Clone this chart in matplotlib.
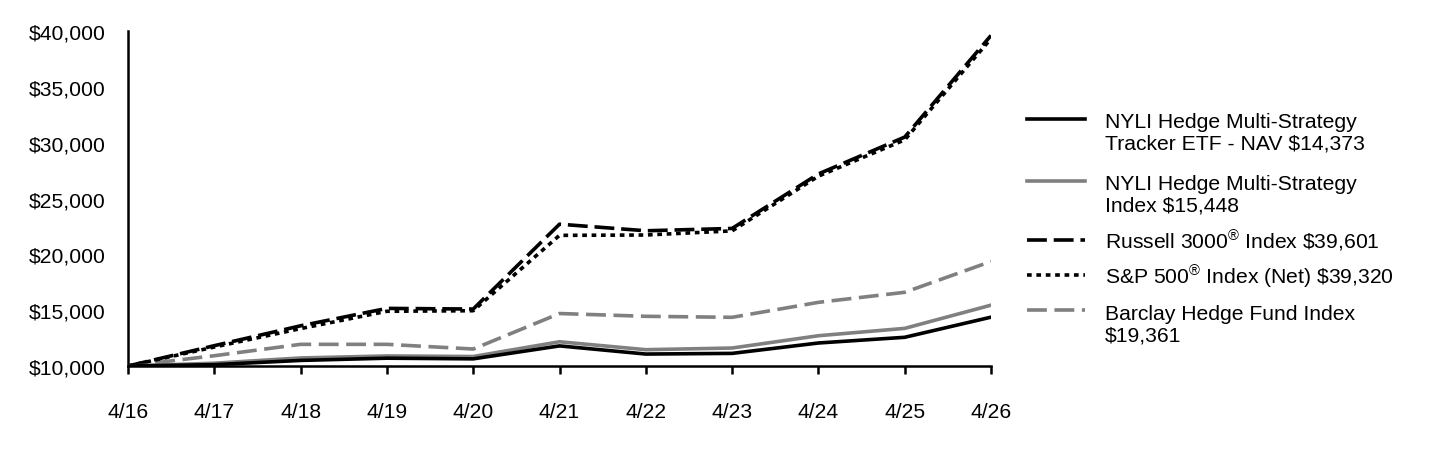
import matplotlib
matplotlib.use("Agg")
import matplotlib.pyplot as plt
from matplotlib.lines import Line2D
from matplotlib.ticker import FuncFormatter, FixedLocator

plt.rcParams['font.family'] = ['Liberation Sans', 'DejaVu Sans']
plt.rcParams['mathtext.fontset'] = 'custom'
plt.rcParams['mathtext.rm'] = 'Liberation Sans'
plt.rcParams['mathtext.it'] = 'Liberation Sans'

periods = ["4/16", "4/17", "4/18", "4/19", "4/20", "4/21", "4/22", "4/23", "4/24", "4/25", "4/26"]
nav = [10000, 10120, 10500, 10700, 10640, 11800, 11070, 11130, 12060, 12570, 14373]
nyli_index = [10000, 10250, 10720, 10900, 10850, 12170, 11460, 11610, 12710, 13370, 15448]
russell = [10000, 11820, 13600, 15160, 15100, 22700, 22110, 22320, 27200, 30500, 39601]
sp500 = [10000, 11700, 13350, 14900, 14950, 21700, 21730, 22100, 27000, 30250, 39320]
barclay = [10000, 10920, 11940, 11940, 11520, 14700, 14450, 14360, 15700, 16600, 19361]

labels = [
    "NYLI Hedge Multi-Strategy\nTracker ETF - NAV \\$14,373",
    "NYLI Hedge Multi-Strategy\nIndex \\$15,448",
    "Russell 3000$^{\\mathrm{®}}$ Index \\$39,601",
    "S&P 500$^{\\mathrm{®}}$ Index (Net) \\$39,320",
    "Barclay Hedge Fund Index\n\\$19,361",
]

fs = 15.2
W, H = 1440, 456
fig = plt.figure(figsize=(W/100, H/100), dpi=100)
ax = fig.add_axes([128/W, 1-367/H, (991-128)/W, (367-32)/H])

x = list(range(len(periods)))
black = "#000000"
gray = "#808080"
lw = 2.6
styles = [
    dict(color=black, lw=lw, zorder=5),
    dict(color=gray, lw=lw, zorder=4),
    dict(color=black, lw=lw, dashes=(5.5, 1.9), zorder=3),
    dict(color=black, lw=lw, dashes=(1.3, 1.3), zorder=3),
    dict(color=gray, lw=lw, dashes=(5.5, 2.1), zorder=2),
]
series = [nav, nyli_index, russell, sp500, barclay]
for vals, st, lab in zip(series, styles, labels):
    ax.plot(x, vals, label=lab, **st)

ax.set_xlim(0, len(periods)-1)
ax.set_ylim(10000, 40000)
ax.set_xticks(x)
ax.set_xticklabels(periods)
ax.yaxis.set_major_locator(FixedLocator(range(10000, 40001, 5000)))
ax.yaxis.set_major_formatter(FuncFormatter(lambda v, p: "${:,.0f}".format(v)))

for s in ["top", "right"]:
    ax.spines[s].set_visible(False)
for s in ["left", "bottom"]:
    ax.spines[s].set_linewidth(1.8)
    ax.spines[s].set_color(black)
ax.tick_params(axis='y', length=0, pad=16, labelsize=fs)
ax.tick_params(axis='x', length=5.8, width=1.8, direction='out', pad=20, labelsize=fs)

# legend drawn manually (handles aligned with the first line of each label)
first_line_y = [121, 183, 242, 277, 312]
line_pitch = 21.5
for lab, st, yc in zip(labels, styles, first_line_y):
    kw = {k: v for k, v in st.items() if k != 'zorder'}
    fig.add_artist(Line2D([1027/W, 1085/W], [1-(yc-1.5)/H, 1-(yc-1.5)/H],
                          transform=fig.transFigure, **kw))
    for k, part in enumerate(lab.split("\n")):
        fig.text(1105/W, 1-(yc + 7.5 + k*line_pitch)/H, part, fontsize=fs,
                 ha='left', va='baseline')

fig.savefig("out.png", dpi=100)
